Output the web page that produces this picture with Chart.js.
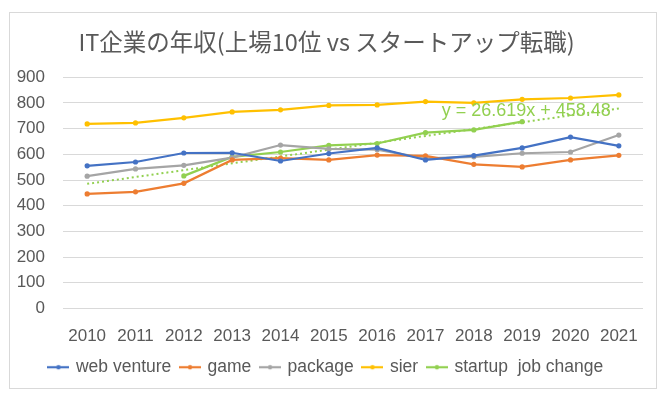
<!DOCTYPE html>
<html>
<head>
<meta charset="utf-8">
<script src="https://cdn.jsdelivr.net/npm/chart.js@4/dist/chart.umd.min.js"></script>
<style>
html,body{margin:0;padding:0;background:#fff;}
#wrap{width:664px;height:398px;position:relative;}
</style>
</head>
<body>
<div id="wrap"><canvas id="c" width="664" height="398"></canvas></div>
<script>
const years = ['2010','2011','2012','2013','2014','2015','2016','2017','2018','2019','2020','2021'];
const webVenture = [555, 570, 605, 606, 574, 603, 625, 578, 595, 625, 667, 633];
const game = [446, 454, 487, 578, 585, 578, 597, 594, 561, 551, 578, 596];
const packageSw = [515, 543, 557, 587, 636, 621, 618, 584, 590, 604, 609, 675];
const sier = [718, 722, 742, 765, 773, 790, 792, 805, 800, 814, 819, 831];
const startup = [null, null, 516, 590, 609, 635, 642, 684, 695, 727, null, null];
const startupTrend = [485, null, null, null, null, null, null, null, null, null, null, 778];
const yTicks = [0, 100, 200, 300, 400, 500, 600, 700, 800, 900];
const trendLabel = 'y = 26.619x + 458.48';

const FONT = '"Liberation Sans", sans-serif';
const TXT = '#595959';

function legendIcon(color) {
  const c = document.createElement('canvas');
  c.width = 22; c.height = 10;
  const g = c.getContext('2d');
  g.strokeStyle = color; g.lineWidth = 2.2;
  g.beginPath(); g.moveTo(0, 5); g.lineTo(22, 5); g.stroke();
  g.fillStyle = color;
  g.beginPath(); g.arc(11, 5, 2.2, 0, Math.PI * 2); g.fill();
  return c;
}

const series = [
  {label: 'web venture', data: webVenture, color: '#4472C4'},
  {label: 'game', data: game, color: '#ED7D31'},
  {label: 'package', data: packageSw, color: '#A5A5A5'},
  {label: 'sier', data: sier, color: '#FFC000'},
  {label: 'startup  job change', data: startup, color: '#92D050'}
];

const datasets = series.map(s => ({
  label: s.label, data: s.data, borderColor: s.color, backgroundColor: s.color,
  borderWidth: 2.2, pointRadius: 2.6, pointHoverRadius: 2.6, pointBorderWidth: 0,
  tension: 0, spanGaps: false, pointStyle: 'circle', iconCanvas: legendIcon(s.color)
}));
datasets.push({
  label: 'trend', data: startupTrend, borderColor: '#92D050', borderWidth: 2,
  borderDash: [2, 3], pointRadius: 0, spanGaps: true, tension: 0, order: 10
});

const framePlugin = {
  id: 'frame',
  afterDraw(chart) {
    const ctx = chart.ctx;
    ctx.save();
    ctx.strokeStyle = '#D9D9D9'; ctx.lineWidth = 1;
    ctx.strokeRect(9.5, 12.5, 647, 376);
    const xs = chart.scales.x, ys = chart.scales.y;
    ctx.font = '18px ' + FONT;
    ctx.fillStyle = '#92D050';
    ctx.textAlign = 'right'; ctx.textBaseline = 'middle';
    ctx.fillText(trendLabel, xs.getPixelForValue(11) - 8, ys.getPixelForValue(768));
    ctx.restore();
  }
};

new Chart(document.getElementById('c'), {
  type: 'line',
  data: {labels: years, datasets},
  plugins: [framePlugin],
  options: {
    responsive: false, animation: false,
    layout: {padding: {left: 10, right: 21, top: 20, bottom: 12}},
    plugins: {
      tooltip: {enabled: false},
      title: {
        display: true, text: 'IT企業の年収(上場10位 vs スタートアップ転職)',
        color: TXT, font: {family: '"Noto Sans CJK JP", sans-serif', size: 23.5, weight: 'normal'},
        padding: {top: 8, bottom: 21}
      },
      legend: {
        position: 'bottom',
        labels: {
          color: TXT, font: {family: FONT, size: 17.5}, padding: 10,
          usePointStyle: true, boxWidth: 22, boxHeight: 10,
          generateLabels(chart) {
            return chart.data.datasets.filter(d => d.iconCanvas).map((d, i) => ({
              text: d.label, pointStyle: d.iconCanvas, fillStyle: d.borderColor,
              strokeStyle: d.borderColor, lineWidth: 0, hidden: false, datasetIndex: i, fontColor: TXT
            }));
          }
        }
      }
    },
    scales: {
      x: {
        offset: true,
        grid: {display: false, drawTicks: false, offset: true},
        border: {display: false},
        ticks: {color: TXT, font: {family: FONT, size: 17}, padding: 18, maxRotation: 0, autoSkip: false},
        afterFit(s) { s.height = 40; }
      },
      y: {
        min: 0, max: 900,
        afterBuildTicks(s) { s.ticks = yTicks.map(v => ({value: v})); },
        grid: {color: '#D9D9D9', lineWidth: 1, drawTicks: false},
        border: {display: false},
        ticks: {color: TXT, font: {family: FONT, size: 17}, padding: 18},
        afterFit(s) { s.width = 53; }
      }
    }
  }
});
</script>
</body>
</html>
